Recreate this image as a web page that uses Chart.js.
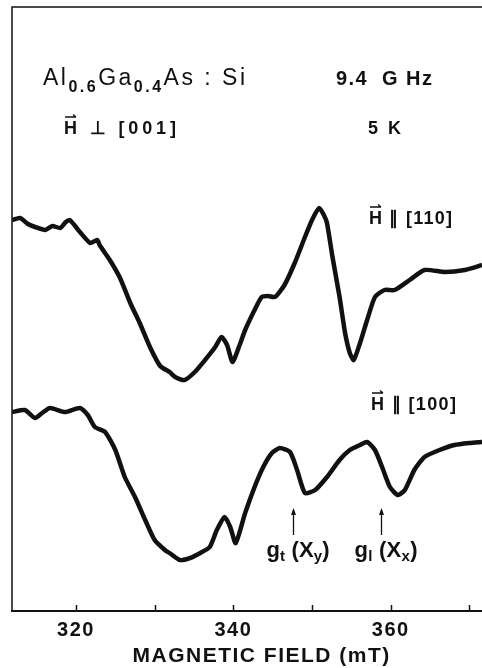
<!DOCTYPE html>
<html>
<head>
<meta charset="utf-8">
<script src="https://cdn.jsdelivr.net/npm/chart.js@4.4.1/dist/chart.umd.min.js"></script>
<style>
html, body { margin: 0; padding: 0; background: #fff; }
canvas { display: block; }
</style>
</head>
<body>
<canvas id="epr-chart" width="482" height="668"></canvas>
<script>
// magnetic field axis (mT)
const fieldTicks = [320, 330, 340, 350, 360, 370];
const fieldLabels = ['320', '', '340', '', '360', ''];

// H || [110] trace (arb. units)
const field110 = [311.9, 312.9, 313.9, 314.8, 316.1, 317.0, 318.0, 318.7, 319.2, 319.9, 320.5, 321.8, 322.7, 323.0, 324.3, 325.6, 326.9, 328.1, 329.4, 330.7, 331.9, 332.6, 333.8, 335.1, 336.4, 337.7, 338.5, 339.2, 339.9, 340.8, 341.5, 342.7, 343.6, 344.4, 345.3, 346.5, 347.8, 349.1, 350.0, 350.9, 351.5, 351.9, 352.6, 353.5, 354.2, 354.8, 355.3, 356.1, 357.0, 358.0, 359.2, 360.5, 362.4, 364.3, 366.9, 369.4, 371.6];
const signal110 = [39.1, 39.3, 38.7, 38.4, 38.1, 38.5, 38.3, 38.9, 39.1, 38.5, 37.9, 36.8, 37.1, 36.6, 35.1, 33.3, 30.8, 28.8, 26.4, 24.5, 23.9, 23.4, 23.1, 23.9, 25.1, 26.4, 27.4, 26.6, 24.9, 26.6, 28.1, 30.1, 31.4, 31.5, 31.4, 32.6, 34.8, 37.4, 39.1, 40.3, 39.6, 38.8, 35.4, 31.4, 27.8, 25.8, 25.1, 26.8, 29.1, 31.4, 32.1, 32.1, 33.1, 34.1, 33.9, 34.1, 34.6];

// H || [100] trace (arb. units)
const field100 = [311.9, 313.5, 314.8, 315.7, 316.7, 318.6, 320.5, 321.5, 322.4, 323.7, 325.0, 326.2, 327.5, 328.8, 330.0, 331.3, 331.9, 333.2, 334.5, 335.8, 337.0, 337.9, 338.9, 339.6, 340.3, 341.5, 342.7, 343.8, 344.9, 345.9, 347.2, 348.1, 349.1, 350.4, 351.9, 353.5, 354.8, 356.1, 357.0, 358.0, 358.9, 359.9, 360.9, 361.8, 363.0, 364.3, 366.2, 368.1, 370.0, 371.6];
const signal100 = [19.9, 20.1, 19.3, 19.8, 20.3, 19.9, 20.3, 19.6, 18.4, 17.9, 16.1, 13.4, 11.4, 9.1, 7.1, 6.1, 5.8, 5.1, 5.3, 5.8, 6.4, 8.1, 9.4, 8.4, 6.8, 9.8, 12.4, 14.4, 15.8, 16.3, 15.9, 14.1, 11.8, 12.1, 13.4, 15.1, 16.1, 16.6, 16.9, 16.1, 14.4, 12.4, 11.6, 12.1, 14.1, 15.4, 16.1, 16.6, 16.8, 16.9];

// g-value markers on the [100] trace
const markerFields = [347.6, 358.8];
const markerG = ['t', 'l'];
const markerValley = ['y', 'x'];

const FONT = '"Liberation Sans", Arial, sans-serif';
const INK = '#111';

function toPoints(xs, ys) {
	return xs.map((x, i) => ({ x: x, y: ys[i] }));
}

// draws text runs spread between left and right; run = [text, size, weight, dy]
function drawRuns(ctx, runs, left, right, baseline) {
	let natural = 0, chars = 0;
	ctx.letterSpacing = '0px';
	runs.forEach(r => {
		ctx.font = r[2] + ' ' + r[1] + 'px ' + FONT;
		natural += ctx.measureText(r[0]).width;
		chars += r[0].length;
	});
	const gap = Math.max(0, (right - left - natural) / (chars - 1));
	let x = left;
	runs.forEach(r => {
		ctx.font = r[2] + ' ' + r[1] + 'px ' + FONT;
		ctx.letterSpacing = '0px';
		const w = ctx.measureText(r[0]).width;
		ctx.letterSpacing = gap + 'px';
		ctx.fillText(r[0], x, baseline + r[3]);
		x += w + gap * r[0].length;
	});
	ctx.letterSpacing = '0px';
}

function vecArrow(ctx, x, top, w) {
	// small arrow above a vector symbol
	ctx.beginPath();
	ctx.moveTo(x + 1, top);
	ctx.lineTo(x + w - 1, top);
	ctx.moveTo(x + w - 4, top - 2.5);
	ctx.lineTo(x + w - 1, top);
	ctx.stroke();
}

const annotations = {
	id: 'annotations',
	beforeDraw(chart) {
		chart.ctx.letterSpacing = '1.5px';
	},
	beforeDatasetsDraw(chart) {
		chart.ctx.letterSpacing = '0px';
	},
	afterDraw(chart) {
		const { ctx, chartArea: a, scales: { x } } = chart;
		ctx.save();
		ctx.strokeStyle = INK;
		ctx.fillStyle = INK;

		// frame: left and top
		ctx.lineWidth = 1.5;
		ctx.beginPath();
		ctx.moveTo(a.left, a.bottom);
		ctx.lineTo(a.left, a.top);
		ctx.lineTo(a.right, a.top);
		ctx.stroke();

		// inward tick marks
		ctx.beginPath();
		x.ticks.forEach(t => {
			const px = Math.round(x.getPixelForValue(t.value)) + 0.5;
			ctx.moveTo(px, a.bottom);
			ctx.lineTo(px, a.bottom - 6);
		});
		ctx.stroke();

		ctx.textBaseline = 'alphabetic';
		ctx.textAlign = 'left';

		drawRuns(ctx, [
			['Al', 23, 500, 0], ['0.6', 16, 700, 7],
			['Ga', 23, 500, 0], ['0.4', 16, 700, 7],
			['As', 23, 500, 0], [' : ', 23, 500, 0], ['Si', 23, 500, 0]
		], 43, 245, 85);
		drawRuns(ctx, [['9.4  G Hz', 20, 700, 0]], 336, 432, 85);
		drawRuns(ctx, [['H \u22A5 [001]', 18, 700, 0]], 64, 176, 134);
		drawRuns(ctx, [['5  K', 18, 700, 0]], 368, 395, 134);
		drawRuns(ctx, [['H \u2225 [110]', 18, 700, 0]], 369, 452, 224);
		drawRuns(ctx, [['H \u2225 [100]', 18, 700, 0]], 371, 456, 410);

		ctx.lineWidth = 1.3;
		vecArrow(ctx, 64, 117, 13);
		vecArrow(ctx, 369, 207, 13);
		vecArrow(ctx, 371, 393, 13);

		// resonance markers
		markerFields.forEach((f, i) => {
			const px = Math.round(x.getPixelForValue(f)) + 0.5;
			ctx.lineWidth = 1.3;
			ctx.beginPath();
			ctx.moveTo(px, 535);
			ctx.lineTo(px, 510);
			ctx.stroke();
			ctx.beginPath();
			ctx.moveTo(px - 2.5, 515);
			ctx.lineTo(px, 508);
			ctx.lineTo(px + 2.5, 515);
			ctx.closePath();
			ctx.fill();
			drawRuns(ctx, [
				['g', 22, 700, 0], [markerG[i], 15, 700, 4],
				[' (X', 22, 700, 0], [markerValley[i], 15, 700, 4], [')', 22, 700, 0]
			], px - 27, px + 36, 557);
		});
		ctx.restore();
	}
};

new Chart(document.getElementById('epr-chart'), {
	type: 'line',
	data: {
		datasets: [{
			label: 'H || [110]',
			data: toPoints(field110, signal110),
			borderColor: INK,
			borderWidth: 4.5,
			borderJoinStyle: 'round',
			pointRadius: 0,
			tension: 0.2
		}, {
			label: 'H || [100]',
			data: toPoints(field100, signal100),
			borderColor: INK,
			borderWidth: 4.5,
			borderJoinStyle: 'round',
			pointRadius: 0,
			tension: 0.2
		}]
	},
	options: {
		responsive: false,
		animation: false,
		devicePixelRatio: 1,
		layout: { padding: { left: 12, top: 7, right: 0, bottom: 0 } },
		plugins: {
			legend: { display: false },
			tooltip: { enabled: false }
		},
		scales: {
			x: {
				type: 'linear',
				min: 311.87,
				max: 371.6,
				afterBuildTicks: s => { s.ticks = fieldTicks.map(v => ({ value: v })); },
				afterFit: s => { s.height = 57; },
				grid: { display: false, drawTicks: false },
				border: { display: true, color: INK, width: 2 },
				ticks: {
					color: INK,
					padding: 9,
					maxRotation: 0,
					autoSkip: false,
					font: { family: FONT, size: 20, weight: 'bold', lineHeight: 1 },
					callback: (v, i) => fieldLabels[i]
				},
				title: {
					display: true,
					text: '    MAGNETIC FIELD (mT)',
					color: INK,
					padding: { top: 7, bottom: 1 },
					font: { family: FONT, size: 21, weight: 'bold', lineHeight: 1 }
				}
			},
			y: {
				display: false,
				min: 0,
				max: 60.4
			}
		}
	},
	plugins: [annotations]
});
</script>
</body>
</html>
